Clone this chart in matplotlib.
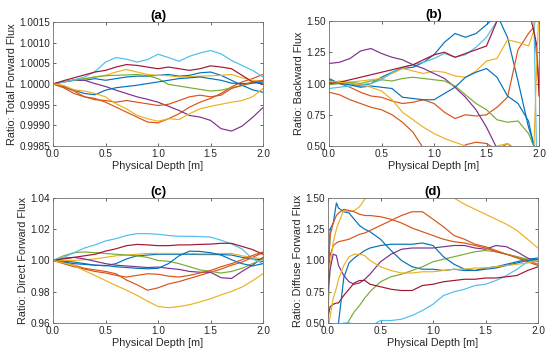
import matplotlib
matplotlib.use("Agg")
import matplotlib.pyplot as plt
from matplotlib.ticker import FormatStrFormatter

plt.rcParams['font.family'] = ['Liberation Sans', 'DejaVu Sans']

# MATLAB default colour order
C_BLUE = '#0072BD'
C_ORANGE = '#D95319'
C_YELLOW = '#EDB120'
C_PURPLE = '#7E2F8E'
C_GREEN = '#77AC30'
C_LBLUE = '#4DBEEE'
C_DRED = '#A2142F'

# ---------------- panel (a) ----------------
a_x = [0.0, 0.1, 0.2, 0.3, 0.4, 0.5, 0.6, 0.7, 0.8, 0.9, 1.0,
       1.1, 1.2, 1.3, 1.4, 1.5, 1.6, 1.7, 1.8, 1.9, 2.0]
a_blue1 = [1.0, 1.00005, 1.00009, 1.00009, 1.00013, 1.00009, 1.00013, 1.00017, 1.00019, 1.00019, 1.00021,
           1.00023, 1.00019, 1.00021, 1.00027, 1.00029, 1.00021, 1.00009, 0.99997, 0.99986, 0.9998]
a_orange1 = [1.0, 0.99991, 0.99977, 0.99969, 0.99965, 0.99956, 0.99944, 0.99932, 0.9992, 0.99908, 0.99906,
             0.99916, 0.99928, 0.99944, 0.99956, 0.99965, 0.99977, 0.99993, 1.00005, 1.00013, 1.00023]
a_yellow1 = [1.0, 1.00005, 1.00009, 1.00013, 1.00017, 1.00021, 1.00029, 1.00035, 1.00029, 1.00023, 1.00021,
             1.0002, 1.00017, 1.00018, 1.00019, 1.0002, 1.00021, 1.00023, 1.00015, 1.00009, 1.00005]
a_purple = [1.0, 1.00005, 1.0001, 1.00009, 1.00001, 0.99994, 0.99985, 0.99977, 0.99969, 0.99963, 0.99956,
            0.99946, 0.99936, 0.99924, 0.9992, 0.99912, 0.99892, 0.99886, 0.99898, 0.99919, 0.99943]
a_green = [1.0, 1.00005, 1.00009, 1.00013, 1.00017, 1.0002, 1.00021, 1.00022, 1.00023, 1.0002, 1.00013,
           0.99999, 0.99995, 0.99991, 0.99987, 0.99983, 0.99985, 0.99991, 0.99996, 1.00002, 1.00009]
a_lblue = [1.0, 1.00005, 1.0001, 1.00017, 1.0003, 1.00053, 1.00064, 1.0006, 1.00053, 1.00059, 1.00072,
           1.00064, 1.00055, 1.00067, 1.00075, 1.00081, 1.00073, 1.00057, 1.00045, 1.00033, 1.00017]
a_dred = [1.0, 1.00008, 1.00015, 1.00022, 1.00029, 1.00033, 1.00041, 1.00047, 1.00045, 1.00041, 1.00037,
          1.00041, 1.00037, 1.00033, 1.00037, 1.00044, 1.00041, 1.00037, 1.00021, 1.00005, 1.0]
a_blue2 = [1.0, 0.99994, 0.99985, 0.99977, 0.99974, 0.99985, 0.99991, 0.99994, 0.99997, 1.00001, 1.00005,
           1.00009, 1.00013, 1.00015, 1.00017, 1.00013, 1.00009, 1.00002, 1.00001, 1.00002, 1.00005]
a_orange2 = [1.0, 0.99993, 0.99983, 0.99969, 0.99962, 0.9996, 0.99956, 0.9996, 0.99956, 0.99952, 0.99948,
             0.99951, 0.9996, 0.99969, 0.99973, 0.99969, 0.99973, 0.99989, 0.99997, 1.00005, 1.00009]
a_yellow2 = [1.0, 0.99997, 0.99986, 0.99983, 0.99977, 0.99969, 0.99952, 0.9994, 0.99924, 0.99916, 0.9991,
             0.99916, 0.99914, 0.99928, 0.9994, 0.99946, 0.99951, 0.99956, 0.9996, 0.99969, 0.99989]

# ---------------- panel (b) ----------------
b_x = [0.0, 0.1, 0.2, 0.3, 0.4, 0.5, 0.6, 0.7, 0.8, 0.9, 1.0,
       1.1, 1.2, 1.3, 1.4, 1.5, 1.6, 1.7, 1.8, 1.9, 1.95, 1.98, 2.0]
b_blue1 = [1.03, 1.0, 1.0, 0.98, 1.0, 1.05, 1.09, 1.12, 1.13, 1.17, 1.23,
           1.33, 1.4, 1.37, 1.4, 1.47, 1.55, 1.37, 1.02, 0.65, 0.52, 0.4, 0.2]
b_orange1 = [1.01, 1.0, 0.97, 0.93, 0.9, 0.89, 0.86, 0.84, 0.85, 0.87, 0.84,
             0.77, 0.72, 0.75, 0.74, 0.75, 0.81, 0.89, 1.27, 1.4, 1.45, 1.2, 1.0]
b_yellow1 = [1.0, 1.02, 1.01, 1.02, 1.03, 1.04, 1.08, 1.12, 1.1, 1.08, 1.1,
             1.09, 1.06, 1.05, 1.1, 1.18, 1.2, 1.35, 1.33, 1.3, 1.42, 1.6, 1.8]
b_purple = [1.16, 1.17, 1.2, 1.26, 1.28, 1.24, 1.21, 1.19, 1.15, 1.12, 1.08,
            1.04, 0.97, 0.89, 0.79, 0.65, 0.48, 0.3, 0.2, 0.1, 0.0, -0.2, -0.4]
b_green = [0.99, 1.0, 1.01, 1.0, 1.02, 1.03, 1.02, 1.04, 1.05, 1.04, 1.03,
           1.02, 0.98, 0.91, 0.84, 0.79, 0.71, 0.69, 0.7, 0.6, 0.5, 0.3, 0.2]
b_lblue = [0.96, 0.97, 0.98, 0.99, 1.0, 1.03, 1.09, 1.13, 1.15, 1.17, 1.2,
           1.24, 1.21, 1.23, 1.29, 1.37, 1.5, 1.7, 1.8, 1.7, 1.6, 0.3, 0.2]
b_dred = [1.0, 1.01, 1.03, 1.05, 1.07, 1.09, 1.11, 1.13, 1.15, 1.19, 1.23,
          1.25, 1.21, 1.24, 1.27, 1.3, 1.5, 1.7, 1.7, 1.6, 1.42, 1.3, 0.9]
b_blue2 = [1.04, 1.0, 0.99, 0.97, 0.98, 0.97, 0.96, 0.89, 0.88, 0.87, 0.87,
           0.92, 0.97, 1.05, 1.09, 1.12, 1.05, 0.9, 0.84, 0.7, 0.5, 0.3, 0.2]
b_orange2 = [0.93, 0.91, 0.87, 0.84, 0.81, 0.79, 0.75, 0.69, 0.61, 0.48, 0.42,
             0.4, 0.45, 0.51, 0.53, 0.52, 0.47, 0.52, 0.45, 0.4, 0.4, 0.4, 0.4]
b_yellow2 = [1.02, 1.01, 1.0, 0.99, 0.97, 0.94, 0.87, 0.77, 0.71, 0.65, 0.6,
             0.56, 0.53, 0.5, 0.48, 0.47, 0.5, 0.52, 0.47, 0.45, 0.45, 1.2, 1.6]

# ---------------- panel (c) ----------------
c_x = a_x
c_blue1 = [1.0, 0.9995, 0.999, 0.998, 0.997, 0.9966, 0.998, 1.001, 1.003, 1.0035, 1.004,
           1.004, 1.004, 1.004, 1.0038, 1.0038, 1.0038, 1.0035, 1.002, 1.001, 1.0005]
c_orange1 = [1.0, 0.9985, 0.997, 0.995, 0.994, 0.993, 0.9915, 0.9875, 0.9845, 0.981, 0.9825,
             0.985, 0.9865, 0.9885, 0.9905, 0.9925, 0.9945, 0.997, 0.999, 1.002, 1.005]
c_yellow1 = [1.0, 1.0, 1.0, 1.0005, 1.001, 1.002, 1.003, 1.0035, 1.004, 1.0045, 1.0045,
             1.0045, 1.0045, 1.0045, 1.0043, 1.0043, 1.0045, 1.0045, 1.003, 1.002, 1.001]
c_purple = [1.0, 1.0015, 1.002, 1.001, 0.9995, 0.998, 0.997, 0.9965, 0.996, 0.9955, 0.9958,
            0.995, 0.9943, 0.993, 0.9925, 0.9925, 0.989, 0.9885, 0.993, 0.997, 1.002]
c_green = [1.0, 1.003, 1.005, 1.0055, 1.005, 1.0045, 1.004, 1.0035, 1.003, 1.002, 1.0,
           0.9995, 0.998, 0.996, 0.994, 0.993, 0.992, 0.993, 0.995, 0.998, 1.001]
c_lblue = [1.0, 1.002, 1.005, 1.008, 1.010, 1.0125, 1.014, 1.016, 1.0172, 1.0172, 1.0168,
           1.016, 1.0155, 1.0155, 1.0153, 1.015, 1.013, 1.0106, 1.0074, 1.001, 0.998]
c_dred = [1.0, 1.001, 1.002, 1.003, 1.004, 1.006, 1.0075, 1.0095, 1.0103, 1.010, 1.0095,
          1.0095, 1.010, 1.010, 1.0103, 1.0105, 1.011, 1.011, 1.009, 1.007, 1.004]
c_blue2 = [1.0, 0.999, 0.998, 0.9975, 0.997, 0.9968, 0.996, 0.9955, 0.995, 0.9947, 0.995,
           0.998, 1.003, 1.006, 1.0058, 1.005, 1.0035, 1.0005, 0.998, 0.9965, 0.998]
c_orange2 = [1.0, 0.998, 0.996, 0.9945, 0.993, 0.992, 0.9905, 0.9894, 0.9905, 0.9915, 0.9912,
             0.99, 0.9894, 0.9905, 0.992, 0.9936, 0.996, 0.998, 1.0005, 1.0032, 1.0055]
c_yellow2 = [1.0, 0.9985, 0.9968, 0.9935, 0.9904, 0.9872, 0.984, 0.981, 0.9777, 0.974, 0.9706,
             0.9698, 0.9705, 0.9717, 0.9735, 0.9755, 0.978, 0.9802, 0.983, 0.987, 0.9915]

# ---------------- panel (d) ----------------
d_x = [0.0, 0.02, 0.05, 0.08, 0.1, 0.15, 0.2, 0.25, 0.3, 0.35, 0.4, 0.5, 0.6, 0.7,
       0.8, 0.9, 1.0, 1.1, 1.2, 1.3, 1.4, 1.5, 1.6, 1.7, 1.8, 1.9, 2.0]
d_blue1 = [0.75, 1.25, 1.3, 1.46, 1.42, 1.39, 1.38, 1.33, 1.28, 1.25, 1.23, 1.17, 1.08, 1.0,
           0.95, 0.93, 0.93, 0.92, 0.93, 0.92, 0.92, 0.94, 0.95, 0.97, 0.99, 1.01, 1.02]
d_orange1 = [0.95, 1.04, 1.12, 1.14, 1.15, 1.16, 1.17, 1.19, 1.21, 1.22, 1.24, 1.28, 1.32, 1.36,
             1.39, 1.39, 1.33, 1.27, 1.2, 1.17, 1.13, 1.11, 1.08, 1.05, 1.03, 1.0, 0.97]
d_yellow1 = [0.55, 0.95, 1.15, 1.25, 1.3, 1.4, 1.39, 1.4, 1.43, 1.49, 1.56, 1.65, 1.75, 1.8,
             1.8, 1.75, 1.7, 1.6, 1.5, 1.45, 1.41, 1.37, 1.33, 1.29, 1.24, 1.17, 1.1]
d_purple = [0.75, 0.93, 1.05, 1.04, 0.96, 0.88, 0.83, 0.81, 0.82, 0.85, 0.89, 0.99, 1.05, 1.09,
            1.1, 1.1, 1.1, 1.11, 1.12, 1.12, 1.1, 1.09, 1.12, 1.11, 1.07, 1.02, 0.99]
d_green = [0.1, 0.15, 0.2, 0.25, 0.3, 0.45, 0.52, 0.59, 0.64, 0.7, 0.75, 0.83, 0.87, 0.89,
           0.92, 0.95, 0.99, 1.01, 1.03, 1.05, 1.07, 1.08, 1.07, 1.05, 1.03, 1.01, 0.99]
d_lblue = [0.3, 0.35, 0.4, 0.45, 0.47, 0.5, 0.5, 0.49, 0.47, 0.45, 0.47, 0.52, 0.52, 0.53,
           0.56, 0.6, 0.65, 0.72, 0.75, 0.77, 0.8, 0.81, 0.84, 0.88, 0.93, 0.99, 1.0]
d_dred = [0.55, 0.63, 0.65, 0.66, 0.66, 0.72, 0.77, 0.82, 0.84, 0.84, 0.81, 0.79, 0.77, 0.76,
          0.76, 0.8, 0.81, 0.83, 0.84, 0.85, 0.85, 0.86, 0.86, 0.87, 0.88, 0.92, 0.95]
d_blue2 = [0.2, 0.25, 0.3, 0.4, 0.5, 0.86, 0.98, 1.02, 1.05, 1.08, 1.1, 1.12, 1.13, 1.13,
           1.13, 1.14, 1.12, 1.03, 0.97, 0.93, 0.92, 0.93, 0.94, 0.96, 0.98, 1.0, 1.01]
d_orange2 = [0.9, 1.2, 1.3, 1.36, 1.38, 1.41, 1.4, 1.39, 1.37, 1.36, 1.36, 1.35, 1.33, 1.3,
             1.26, 1.23, 1.2, 1.17, 1.15, 1.14, 1.12, 1.1, 1.07, 1.05, 1.02, 0.99, 0.96]
d_yellow2 = [0.45, 0.55, 0.7, 0.78, 0.85, 0.96, 1.03, 1.05, 1.05, 1.04, 1.0, 0.95, 0.92, 0.9,
             0.9, 0.91, 0.91, 0.92, 0.93, 0.93, 0.94, 0.94, 0.95, 0.96, 0.97, 0.98, 1.0]

x_ticks = [0.0, 0.5, 1.0, 1.5, 2.0]
a_yticks = [0.9985, 0.9990, 0.9995, 1.0000, 1.0005, 1.0010, 1.0015]
b_yticks = [0.50, 0.75, 1.00, 1.25, 1.50]
c_yticks = [0.96, 0.98, 1.00, 1.02, 1.04]
d_yticks = [0.50, 0.75, 1.00, 1.25, 1.50]

panels = [
    dict(title='(a)', ylabel='Ratio: Total Forward Flux', x=a_x,
         series=[a_blue1, a_orange1, a_yellow1, a_purple, a_green, a_lblue, a_dred,
                 a_blue2, a_orange2, a_yellow2],
         ylim=(0.9985, 1.0015), yticks=a_yticks, fmt='%.4f'),
    dict(title='(b)', ylabel='Ratio: Backward Flux', x=b_x,
         series=[b_blue1, b_orange1, b_yellow1, b_purple, b_green, b_lblue, b_dred,
                 b_blue2, b_orange2, b_yellow2],
         ylim=(0.5, 1.5), yticks=b_yticks, fmt='%.2f'),
    dict(title='(c)', ylabel='Ratio: Direct Forward Flux', x=c_x,
         series=[c_blue1, c_orange1, c_yellow1, c_purple, c_green, c_lblue, c_dred,
                 c_blue2, c_orange2, c_yellow2],
         ylim=(0.96, 1.04), yticks=c_yticks, fmt='%.2f'),
    dict(title='(d)', ylabel='Ratio: Diffuse Forward Flux', x=d_x,
         series=[d_blue1, d_orange1, d_yellow1, d_purple, d_green, d_lblue, d_dred,
                 d_blue2, d_orange2, d_yellow2],
         ylim=(0.5, 1.5), yticks=d_yticks, fmt='%.2f'),
]
colors = [C_BLUE, C_ORANGE, C_YELLOW, C_PURPLE, C_GREEN, C_LBLUE, C_DRED,
          C_BLUE, C_ORANGE, C_YELLOW]

W, H = 550, 358
fig = plt.figure(figsize=(W / 100, H / 100), dpi=100)
# pixel boxes: left, top, right, bottom
boxes = [(53, 22, 263, 146), (329, 21, 539, 146), (53, 198, 263, 323), (328, 198, 538, 323)]

for p, (l, t, r, b) in zip(panels, boxes):
    ax = fig.add_axes([l / W, 1 - b / H, (r - l) / W, (b - t) / H])
    for s, col in zip(p['series'], colors):
        ax.plot(p['x'], s, color=col, lw=0.85)
    ax.set_xlim(0, 2)
    ax.set_ylim(*p['ylim'])
    ax.set_xticks(x_ticks)
    ax.set_yticks(p['yticks'])
    ax.xaxis.set_major_formatter(FormatStrFormatter('%.1f'))
    ax.yaxis.set_major_formatter(FormatStrFormatter(p['fmt']))
    ax.tick_params(direction='in', length=2.5, width=0.5, top=True, right=True,
                   labelsize=7.2, colors='#262626', pad=2)
    for sp in ax.spines.values():
        sp.set_linewidth(0.6)
        sp.set_color('#707070')
    ax.set_xlabel('Physical Depth [m]', fontsize=7.8, color='#262626', labelpad=1.5)
    ax.set_ylabel(p['ylabel'], fontsize=7.8, color='#262626', labelpad=2)
    ax.set_title(p['title'], fontsize=9.5, fontweight='bold', pad=2.5)

fig.savefig('out.png', dpi=100)
